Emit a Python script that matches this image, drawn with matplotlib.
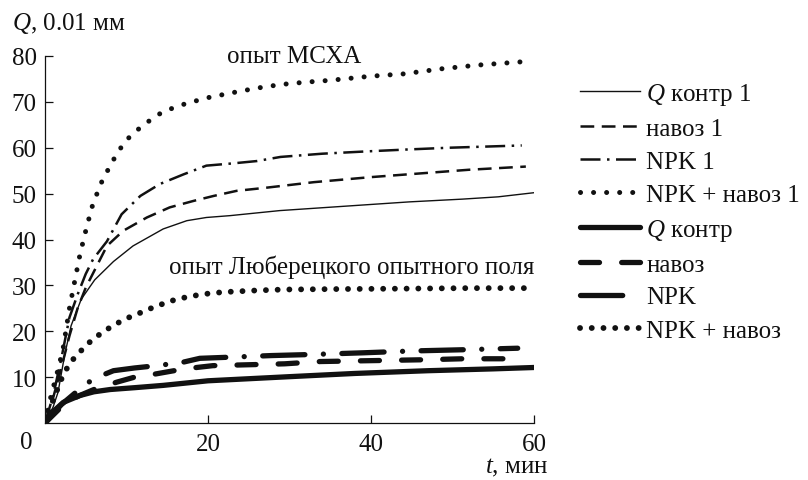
import matplotlib
matplotlib.use("Agg")
import matplotlib.pyplot as plt

plt.rcParams["font.family"] = ["Liberation Serif", "DejaVu Serif"]
plt.rcParams["mathtext.fontset"] = "custom"
plt.rcParams["mathtext.rm"] = "Liberation Serif"
plt.rcParams["mathtext.it"] = "Liberation Serif:italic"
plt.rcParams["font.size"] = 18

# опыт МСХА (thin lines)
t_kontr1 = [0, 1, 1.6, 2.4, 3.2, 4.45, 6.1, 8.4, 10.8, 14.5, 17.4, 19.8, 22.7, 28.8, 38, 44.7, 51.2, 55.6, 60]
q_kontr1 = [0, 3.5, 6.7, 14.7, 21.2, 27, 31.2, 35.2, 38.6, 42.3, 44.1, 44.8, 45.2, 46.3, 47.4, 48.2, 48.8, 49.3, 50.2]

t_navoz1 = [0, 1, 2, 3, 4, 5, 6, 7.6, 9.6, 12.5, 15.3, 18.2, 20.7, 23.5, 27.2, 33, 40, 46, 52, 59]
q_navoz1 = [0, 5.5, 12, 19, 25, 29.5, 33, 38.6, 41.9, 44.8, 47, 48.4, 49.5, 50.6, 51.3, 52.5, 53.6, 54.4, 55.2, 55.9]

t_npk1 = [0, 1, 2, 3, 4, 5, 5.9, 7.6, 9.4, 11.7, 14.1, 17, 19.8, 23.1, 26, 28.9, 34, 39.4, 44.2, 49.5, 58.5]
q_npk1 = [0, 6, 14, 23, 28, 32.5, 35.7, 39.6, 45.5, 49.5, 52.1, 54.2, 56.1, 56.6, 57.1, 58, 58.7, 59.2, 59.6, 60, 60.5]

t_npkn1 = [0, 0.75, 1.5, 2.2, 3, 3.7, 4.3, 5, 5.75, 6.8, 8.2, 9.8, 12, 14.5, 17.4, 20.2, 23.3, 26, 29, 32, 35, 40, 44, 48.6, 53, 59]
q_npkn1 = [0, 6, 11, 16, 25, 31.4, 36.8, 41.9, 47, 52, 56.8, 61.4, 64.9, 67.9, 69.7, 71, 72.1, 73, 73.8, 74.3, 74.7, 75.6, 76.1, 77.2, 78, 78.8]

# опыт Люберецкого опытного поля (thick lines)
t_kontr = [0, 1, 2.25, 4.3, 6, 8, 11, 14.5, 20, 30, 38, 47, 55, 60]
q_kontr = [0, 2.5, 4.5, 6, 6.8, 7.3, 7.7, 8.2, 9.2, 10.1, 10.8, 11.4, 11.8, 12.1]

t_navoz = [0, 2, 4, 6, 8.8, 11, 13.6, 17.1, 20.6, 25, 29.4, 33.8, 40.3, 46.9, 51.2, 58.2]
q_navoz = [0, 3.5, 5.8, 7.3, 8.9, 10, 10.7, 11.8, 12.5, 12.7, 12.9, 13.4, 13.6, 13.8, 14, 14]

t_npk = [0, 2, 4, 5.9, 8.4, 11, 13.7, 16.8, 19, 22, 27.8, 32, 39, 45, 52, 58]
q_npk = [0, 4, 7, 9.6, 11.4, 12, 12.5, 13.2, 14.1, 14.3, 14.7, 14.9, 15.3, 15.7, 16, 16.3]

t_npkn = [0, 1, 2, 3, 4.45, 5.7, 7, 8.4, 10, 11.4, 13, 14.5, 16, 17.8, 19.5, 21, 22.6, 26, 29.4, 36, 45, 52, 59.3]
q_npkn = [0, 5, 9.5, 13, 15.8, 18, 19.7, 21.3, 22.8, 23.8, 25, 26, 26.9, 27.6, 28.1, 28.4, 28.6, 28.9, 29.1, 29.2, 29.3, 29.4, 29.4]

W, H = 808, 481
fig = plt.figure(figsize=(W / 100, H / 100), dpi=100)
ax = fig.add_axes([45 / W, 1 - 424 / H, (534 - 45) / W, (424 - 57) / H])

k = "#111111"
ax.plot(t_kontr1, q_kontr1, color=k, lw=1.0, label="$Q$ контр 1")
ax.plot(t_navoz1, q_navoz1, color=k, lw=1.8, dashes=(5.5, 3), label="навоз 1")
ax.plot(t_npk1, q_npk1, color=k, lw=1.8, dashes=(8, 2.6, 1, 2.6), label="NPK 1")
ax.plot(t_npkn1, q_npkn1, color=k, lw=3.6, dashes=(0.01, 2.6), dash_capstyle="round", label="NPK + навоз 1")
ax.plot(t_kontr, q_kontr, color=k, lw=3.8, solid_capstyle="round", label="$Q$ контр")
ax.plot(t_navoz, q_navoz, color=k, lw=3.8, dashes=(3.6, 4.2), dash_capstyle="round", label="навоз")
ax.plot(t_npk, q_npk, color=k, lw=3.8, dashes=(8, 3.5, 0.01, 3.5), dash_capstyle="round", label="NPK")
ax.plot(t_npkn, q_npkn, color=k, lw=4.2, dashes=(0.01, 2.0), dash_capstyle="round", label="NPK + навоз")

ax.set_xlim(0, 60)
ax.set_ylim(0, 80)
ax.set_xticks([20, 40, 60])
ax.set_yticks([10, 20, 30, 40, 50, 60, 70, 80])
ax.tick_params(direction="in", length=6, width=0.9, pad=7, colors=k)
ax.tick_params(axis="y", pad=6)
for s in ["top", "right"]:
    ax.spines[s].set_visible(False)
for s in ["left", "bottom"]:
    ax.spines[s].set_linewidth(0.9)
    ax.spines[s].set_color(k)

ax.annotate("0", xy=(0, 0), xytext=(-19, -19), textcoords="offset pixels",
            ha="center", va="center", color=k)

fig.text(12 / W, 1 - 23 / H, "$Q$, 0.01 мм", ha="left", va="center", color=k)
fig.text(548 / W, 1 - 468 / H, "$t$, мин", ha="right", va="center", color=k)
fig.text(227 / W, 1 - 57 / H, "опыт МСХА", ha="left", va="center", color=k)
fig.text(534 / W, 1 - 267 / H, "опыт Люберецкого опытного поля", ha="right", va="center", color=k)

fig.legend(loc="upper left", bbox_to_anchor=(580 / W, 1 - 82 / H), frameon=False,
           borderpad=0, borderaxespad=0, handlelength=2.4, handletextpad=0.25,
           labelspacing=0.42, labelcolor=k)

fig.savefig("out.png", dpi=100)
